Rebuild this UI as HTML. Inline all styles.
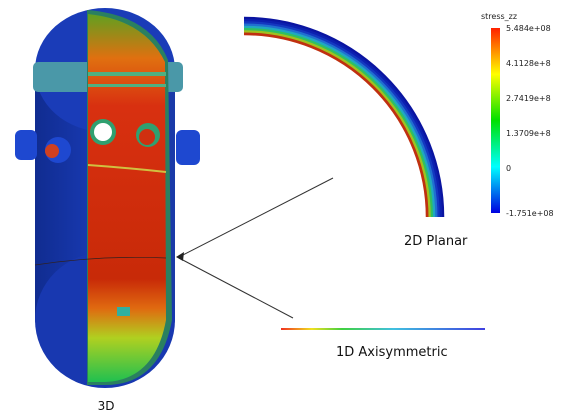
<!DOCTYPE html>
<html><head><meta charset="utf-8"><style>
html,body{margin:0;padding:0;background:#fff;width:575px;height:415px;overflow:hidden}
svg{display:block}
text{font-family:"DejaVu Sans","Liberation Sans",sans-serif}
</style></head><body>
<svg id="fig" width="575" height="415" viewBox="0 0 575 415">
<defs>
<linearGradient id="cb" x1="0" y1="1" x2="0" y2="0">
<stop offset="0" stop-color="#0000e0"/><stop offset="0.25" stop-color="#00ffff"/><stop offset="0.5" stop-color="#00e000"/><stop offset="0.75" stop-color="#ffff00"/><stop offset="1" stop-color="#ff2000"/></linearGradient>
<linearGradient id="oned" x1="0" y1="0" x2="1" y2="0">
<stop offset="0" stop-color="#f03020"/><stop offset="0.15" stop-color="#f0e020"/><stop offset="0.3" stop-color="#40d040"/><stop offset="0.55" stop-color="#40c0e0"/><stop offset="1" stop-color="#4040e0"/></linearGradient>
<linearGradient id="inner" x1="0" y1="0" x2="0" y2="1">
<stop offset="0" stop-color="#60a020"/><stop offset="0.12" stop-color="#e07010"/><stop offset="0.25" stop-color="#d83010"/><stop offset="0.72" stop-color="#c82a08"/><stop offset="0.8" stop-color="#e06a10"/><stop offset="0.88" stop-color="#b0d020"/><stop offset="1" stop-color="#20c050"/></linearGradient>
<linearGradient id="outer" x1="0" y1="0" x2="1" y2="0">
<stop offset="0" stop-color="#102c90"/><stop offset="0.5" stop-color="#1a3cb8"/><stop offset="1" stop-color="#1a3aa8"/></linearGradient>
</defs>

<g>
<rect x="35" y="60" width="140" height="270" rx="10" fill="url(#outer)"/>
<ellipse cx="105" cy="70" rx="70" ry="62" fill="#1a3cb8"/>
<ellipse cx="105" cy="320" rx="70" ry="68" fill="#1838b0"/>
<rect x="33" y="62" width="150" height="30" rx="5" fill="#4a98a8"/>
<rect x="15" y="130" width="22" height="30" rx="6" fill="#1e48d0"/>
<rect x="176" y="130" width="24" height="35" rx="6" fill="#1e48d0"/>
<circle cx="58" cy="150" r="13" fill="#1e48d0"/><circle cx="52" cy="151" r="7" fill="#d04020"/>
<path d="M87 10 Q150 15 168 60 L172 320 Q160 385 105 385 L87 385 Z" fill="#2a8060"/>
<path d="M88 14 Q145 20 165 62 L166 320 Q155 380 105 382 L88 382 Z" fill="url(#inner)"/>
<rect x="88" y="72" width="78" height="4" fill="#50b080"/><rect x="88" y="84" width="78" height="3" fill="#50b080"/>
<path d="M88 165 Q130 168 166 172" stroke="#d0c040" stroke-width="2" fill="none"/>
<path d="M35 265 Q100 255 166 258" stroke="#302020" stroke-width="0.7" fill="none"/>
<circle cx="103" cy="132" r="13" fill="#30a070"/><circle cx="103" cy="132" r="9" fill="#fff"/>
<circle cx="148" cy="135" r="12" fill="#30a070"/><circle cx="147" cy="137" r="8" fill="#d03010"/>
<rect x="117" y="307" width="13" height="9" fill="#30b0a0"/>
</g>
<text x="106" y="410" font-size="12" text-anchor="middle" fill="#111">3D</text>

<g id="arc"></g>
<text x="404" y="245" font-size="13" fill="#111">2D Planar</text>

<line x1="333" y1="178" x2="179" y2="257" stroke="#333" stroke-width="1"/>
<line x1="293" y1="318" x2="179" y2="258" stroke="#333" stroke-width="1"/>
<polygon points="176,257 184,252 183,261" fill="#222"/>

<rect x="281" y="328" width="204" height="2" fill="url(#oned)"/>
<text x="336" y="356" font-size="13" fill="#111">1D Axisymmetric</text>

<text x="481" y="19" font-size="8" fill="#222">stress_zz</text>
<rect x="491" y="28" width="9" height="185" fill="url(#cb)"/>
<g id="cbticks"></g>
</svg>
<script>
const tickValues=[5.484e8,4.1128e8,2.7419e8,1.3709e8,0,-1.751e8];
const tickLabels=["5.484e+08","4.1128e+8","2.7419e+8","1.3709e+8","0","-1.751e+08"];
const vmin=-1.751e8, vmax=5.484e8;
const ringLayers=["#0a14a0","#0c20b0","#1438c0","#2070d0","#20a8c0","#30c060","#a0c020","#c03010"];
const NS="http://www.w3.org/2000/svg";
function y(v){return 213-(v-vmin)/(vmax-vmin)*185;}
const g=document.getElementById('cbticks');
tickValues.forEach((v,i)=>{
 const t=document.createElementNS(NS,'text');
 t.setAttribute('x',506);t.setAttribute('y',y(v)+3);t.setAttribute('font-size','8');t.setAttribute('fill','#222');
 t.textContent=tickLabels[i];
 
 
 g.appendChild(t);
});
const arc=document.getElementById('arc');
const cx=244,cy=217,ro=200,ri=182;
const w=(ro-ri)/ringLayers.length;
ringLayers.forEach((c,i)=>{
 const r=ro-w*(i+0.5);
 const p=document.createElementNS(NS,'path');
 p.setAttribute('d',`M${cx} ${cy-r} A${r} ${r} 0 0 1 ${cx+r} ${cy}`);
 p.setAttribute('stroke',c);p.setAttribute('stroke-width',w+0.5);p.setAttribute('fill','none');
 
 
 arc.appendChild(p);
});
</script>
</body></html>
